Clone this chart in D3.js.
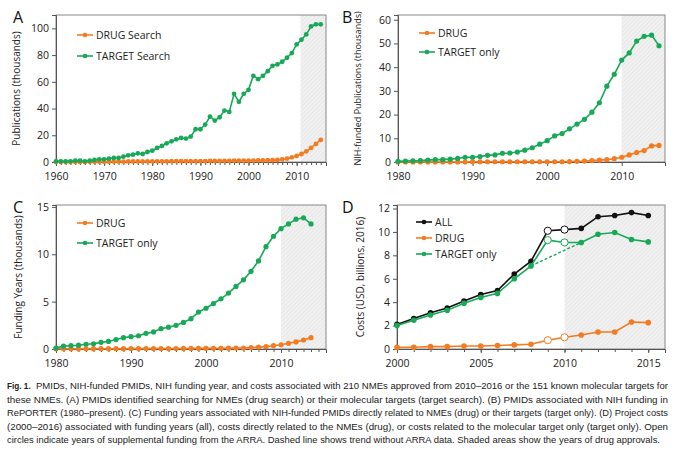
<!DOCTYPE html>
<html><head><meta charset="utf-8">
<script src="https://cdn.jsdelivr.net/npm/d3@7"></script>
<style>body{margin:0;background:#fff;font-family:"Open Sans",Calibri,sans-serif}</style>
</head><body><div id="chart"></div>
<script>
// panel A: 1960-2015
var yearsA = d3.range(1960, 2016);
var targetA = [0.5,0.5,0.5,0.5,1,1,0.5,1,1.5,2,2,2.5,3,3,4,5,5.5,6.5,6,7.5,8.5,10.5,12,14,15.5,17,18,17.5,19,24.5,24.5,28,34,31,33.5,38.5,37.5,51,45,51,54,64.5,62,64.5,68,72,73,75,78,81.5,88,91.5,95.5,101.5,103,103];
var drugA = [0,0,0,0,0,0,0,0.1,0.1,0.2,0.2,0.2,0.3,0.3,0.3,0.4,0.4,0.4,0.4,0.5,0.5,0.5,0.5,0.5,0.6,0.6,0.6,0.6,0.6,0.7,0.7,0.7,0.8,0.8,0.8,0.9,0.9,1,1,1,1.1,1.1,1.2,1.2,1.3,1.4,1.5,2,2.5,3.5,4.5,6,8,10.5,13.5,16.5];
// panel B: 1980-2015
var yearsB = d3.range(1980, 2016);
var targetB = [0.3,0.4,0.5,0.6,0.8,1,1,1.2,1.5,2,2,2.3,2.8,3,3.7,3.8,4.2,5,6,7.5,9,11,12,14,16,18,21,25,32,37,43,46,51,53,53.5,49];
var drugB = [0,0,0,0,0,0,0,0,0,0,0.1,0.1,0.1,0.1,0.1,0.1,0.1,0.1,0.1,0.1,0.1,0.1,0.1,0.2,0.3,0.4,0.6,0.8,1,1.4,2,3,4,4.8,6.8,7];
// panel C: 1980-2014
var yearsC = d3.range(1980, 2015);
var targetC = [0.1,0.3,0.35,0.4,0.5,0.55,0.7,0.8,1.0,1.2,1.3,1.4,1.65,1.8,2.15,2.3,2.5,2.8,3.2,3.9,4.3,4.8,5.3,5.9,6.6,7.3,8.2,9.3,10.8,11.9,12.7,13.2,13.7,13.85,13.2];
var drugC = [0.02,0.02,0.02,0.02,0.02,0.03,0.03,0.03,0.03,0.03,0.04,0.04,0.04,0.05,0.05,0.05,0.05,0.06,0.06,0.07,0.07,0.08,0.08,0.09,0.1,0.1,0.15,0.2,0.25,0.35,0.45,0.6,0.75,0.95,1.2];
// panel D: 2000-2015, open circles = ARRA years
var yearsD = d3.range(2000, 2016);
var allD = [2.1,2.6,3.1,3.5,4.1,4.65,5.0,6.4,7.5,10.1,10.2,10.3,11.3,11.4,11.65,11.4];
var targetD = [2.0,2.45,2.9,3.3,3.9,4.4,4.75,6.0,7.1,9.3,9.1,9.1,9.8,9.95,9.35,9.15];
var drugD = [0.15,0.15,0.2,0.2,0.25,0.25,0.3,0.35,0.4,0.75,1.0,1.2,1.45,1.45,2.3,2.25];
var arraYears = [2009, 2010];
var trendYears = [2008, 2011];

var caption = [
  "PMIDs, NIH-funded PMIDs, NIH funding year, and costs associated with 210 NMEs approved from 2010\u20132016 or the 151 known molecular targets for",
  "these NMEs. (A) PMIDs identified searching for NMEs (drug search) or their molecular targets (target search). (B) PMIDs associated with NIH funding in",
  "RePORTER (1980\u2013present). (C) Funding years associated with NIH-funded PMIDs directly related to NMEs (drug) or their targets (target only). (D) Project costs",
  "(2000\u20132016) associated with funding years (all), costs directly related to the NMEs (drug), or costs related to the molecular target only (target only). Open",
  "circles indicate years of supplemental funding from the ARRA. Dashed line shows trend without ARRA data. Shaded areas show the years of drug approvals."
];

var ORANGE = "#f47b20", GREEN = "#17a957", BLACK = "#111";

var svg = d3.select("#chart").append("svg").attr("width", 680).attr("height", 449);
var defs = svg.append("defs");
var pat = defs.append("pattern").attr("id", "hatch").attr("width", 3).attr("height", 3)
    .attr("patternUnits", "userSpaceOnUse").attr("patternTransform", "rotate(45)");
pat.append("rect").attr("width", 3).attr("height", 3).attr("fill", "#f1f1f1");
pat.append("line").attr("x1", 0).attr("y1", 0).attr("x2", 0).attr("y2", 3).attr("stroke", "#d8d8d8").attr("stroke-width", 0.8);

function panel(o) {
    var g = svg.append("g");
    var x = d3.scaleLinear().domain(o.xdom).range([o.left, o.right]);
    var y = d3.scaleLinear().domain(o.ydom).range([o.bottom, o.top]);

    g.append("rect").attr("x", x(o.shade)).attr("y", o.top)
        .attr("width", o.right - x(o.shade)).attr("height", o.bottom - o.top).attr("fill", "url(#hatch)");
    g.append("rect").attr("x", o.left).attr("y", o.top).attr("width", o.right - o.left)
        .attr("height", o.bottom - o.top).attr("fill", "none").attr("stroke", "#888").attr("stroke-width", 1);

    var xa = g.append("g").attr("transform", "translate(0," + o.bottom + ")")
        .call(d3.axisBottom(x).tickValues(o.xticks).tickFormat(d3.format("d")).tickSize(4));
    if (o.minor) g.append("g").attr("transform", "translate(0," + o.bottom + ")")
        .call(d3.axisBottom(x).tickValues(o.minor).tickFormat("").tickSize(3))
        .call(function(s){ s.select(".domain").remove(); s.selectAll("line").attr("stroke", "#555"); });
    var ya = g.append("g").attr("transform", "translate(" + o.left + ",0)")
        .call(d3.axisLeft(y).tickValues(o.yticks).tickSize(4));
    [xa, ya].forEach(function(a) {
        a.select(".domain").attr("stroke", "#555");
        a.selectAll("line").attr("stroke", "#555");
        a.selectAll("text").attr("font-size", 10.5).attr("fill", "#222").attr("font-family", "Open Sans, sans-serif");
    });
    xa.selectAll("text").attr("dy", "1.0em");

    g.append("text").attr("transform", "translate(" + o.ytx + "," + ((o.top + o.bottom) / 2) + ") rotate(-90)")
        .attr("text-anchor", "middle").attr("font-size", o.yfs || 10).attr("fill", "#222").text(o.ytitle);
    g.append("text").attr("x", o.lx).attr("y", o.ly).attr("font-size", 16).attr("fill", "#111").text(o.letter);

    var line = d3.line().x(function(d){ return x(d[0]); }).y(function(d){ return y(d[1]); });
    o.series.forEach(function(s) {
        var pts = o.years.map(function(yr, i){ return [yr, s.values[i]]; });
        g.append("path").datum(pts).attr("d", line).attr("fill", "none").attr("stroke", s.color).attr("stroke-width", 1.6);
        if (s.trend) {
            var tp = pts.filter(function(p){ return trendYears.indexOf(p[0]) >= 0; });
            g.append("path").datum(tp).attr("d", line).attr("fill", "none").attr("stroke", s.color)
                .attr("stroke-width", 1.4).attr("stroke-dasharray", "3,2");
        }
        g.selectAll(null).data(pts).enter().append("circle")
            .attr("cx", function(d){ return x(d[0]); }).attr("cy", function(d){ return y(d[1]); })
            .attr("r", function(d){ return o.open && arraYears.indexOf(d[0]) >= 0 ? 3.6 : o.r; })
            .attr("fill", function(d){ return o.open && arraYears.indexOf(d[0]) >= 0 ? "#fff" : s.color; })
            .attr("stroke", s.color).attr("stroke-width", function(d){ return o.open && arraYears.indexOf(d[0]) >= 0 ? 1 : 0; });
    });
    o.legend.forEach(function(l, i) {
        var ly = o.legY + i * o.legGap;
        g.append("line").attr("x1", o.legX).attr("x2", o.legX + 16).attr("y1", ly).attr("y2", ly)
            .attr("stroke", l.color).attr("stroke-width", 1.6);
        g.append("circle").attr("cx", o.legX + 8).attr("cy", ly).attr("r", 2.3).attr("fill", l.color);
        g.append("text").attr("x", o.legX + 19).attr("y", ly + 4).attr("font-size", 10.5).attr("fill", "#222").text(l.name);
    });
}

panel({letter: "A", lx: 13, ly: 23, left: 56, right: 326, top: 15, bottom: 162,
    xdom: [1960, 2016.1], ydom: [0, 110], shade: 2010.8, r: 2.4,
    xticks: d3.range(1960, 2011, 10), minor: d3.range(1961, 2016), yticks: d3.range(0, 101, 20),
    ytitle: "Publications (thousands)", ytx: 20, years: yearsA,
    series: [{values: drugA, color: ORANGE}, {values: targetA, color: GREEN}],
    legend: [{name: "DRUG Search", color: ORANGE}, {name: "TARGET Search", color: GREEN}],
    legX: 77, legY: 35, legGap: 21});

panel({letter: "B", lx: 342, ly: 23, left: 398, right: 665, top: 15, bottom: 162,
    xdom: [1980, 2015.8], ydom: [0, 62], shade: 2010, r: 2.6,
    xticks: [1980, 1990, 2000, 2010], yticks: d3.range(0, 61, 10),
    ytitle: "NIH-funded Publications (thousands)", ytx: 361, yfs: 9, years: yearsB,
    series: [{values: drugB, color: ORANGE}, {values: targetB, color: GREEN}],
    legend: [{name: "DRUG", color: ORANGE}, {name: "TARGET only", color: GREEN}],
    legX: 419, legY: 33, legGap: 19});

panel({letter: "C", lx: 13, ly: 213, left: 56, right: 326, top: 205, bottom: 349,
    xdom: [1980, 2016], ydom: [0, 15.2], shade: 2010, r: 2.6,
    xticks: [1980, 1990, 2000, 2010], minor: d3.range(1981, 2016), yticks: [0, 5, 10, 15],
    ytitle: "Funding Years (thousands)", ytx: 22, years: yearsC,
    series: [{values: drugC, color: ORANGE}, {values: targetC, color: GREEN}],
    legend: [{name: "DRUG", color: ORANGE}, {name: "TARGET only", color: GREEN}],
    legX: 77, legY: 223, legGap: 20});

panel({letter: "D", lx: 342, ly: 213, left: 397, right: 665, top: 205, bottom: 349,
    xdom: [2000, 2016], ydom: [0, 12.3], shade: 2010, r: 2.8, open: true,
    xticks: [2000, 2005, 2010, 2015], minor: d3.range(2001, 2016), yticks: d3.range(0, 13, 2),
    ytitle: "Costs (USD, billions, 2016)", ytx: 364, years: yearsD,
    series: [{values: drugD, color: ORANGE}, {values: allD, color: BLACK}, {values: targetD, color: GREEN, trend: true}],
    legend: [{name: "ALL", color: BLACK}, {name: "DRUG", color: ORANGE}, {name: "TARGET only", color: GREEN}],
    legX: 416, legY: 222, legGap: 16});

// caption
var cap = svg.append("g").attr("font-family", "Liberation Sans Narrow, Liberation Sans, sans-serif").attr("font-size", 8.2).attr("fill", "#222");
caption.forEach(function(t, i) {
    var tx = cap.append("text").attr("x", i === 0 ? 36 : 7).attr("y", 389 + i * 13.6);
    if (i < 4) tx.attr("textLength", i === 0 ? 632 : 661).attr("lengthAdjust", "spacingAndGlyphs");
    else tx.attr("textLength", 653).attr("lengthAdjust", "spacingAndGlyphs");
    tx.text(t);
});
cap.append("text").attr("x", 7).attr("y", 389).attr("font-weight", "bold").text("Fig. 1.");
</script></body></html>
